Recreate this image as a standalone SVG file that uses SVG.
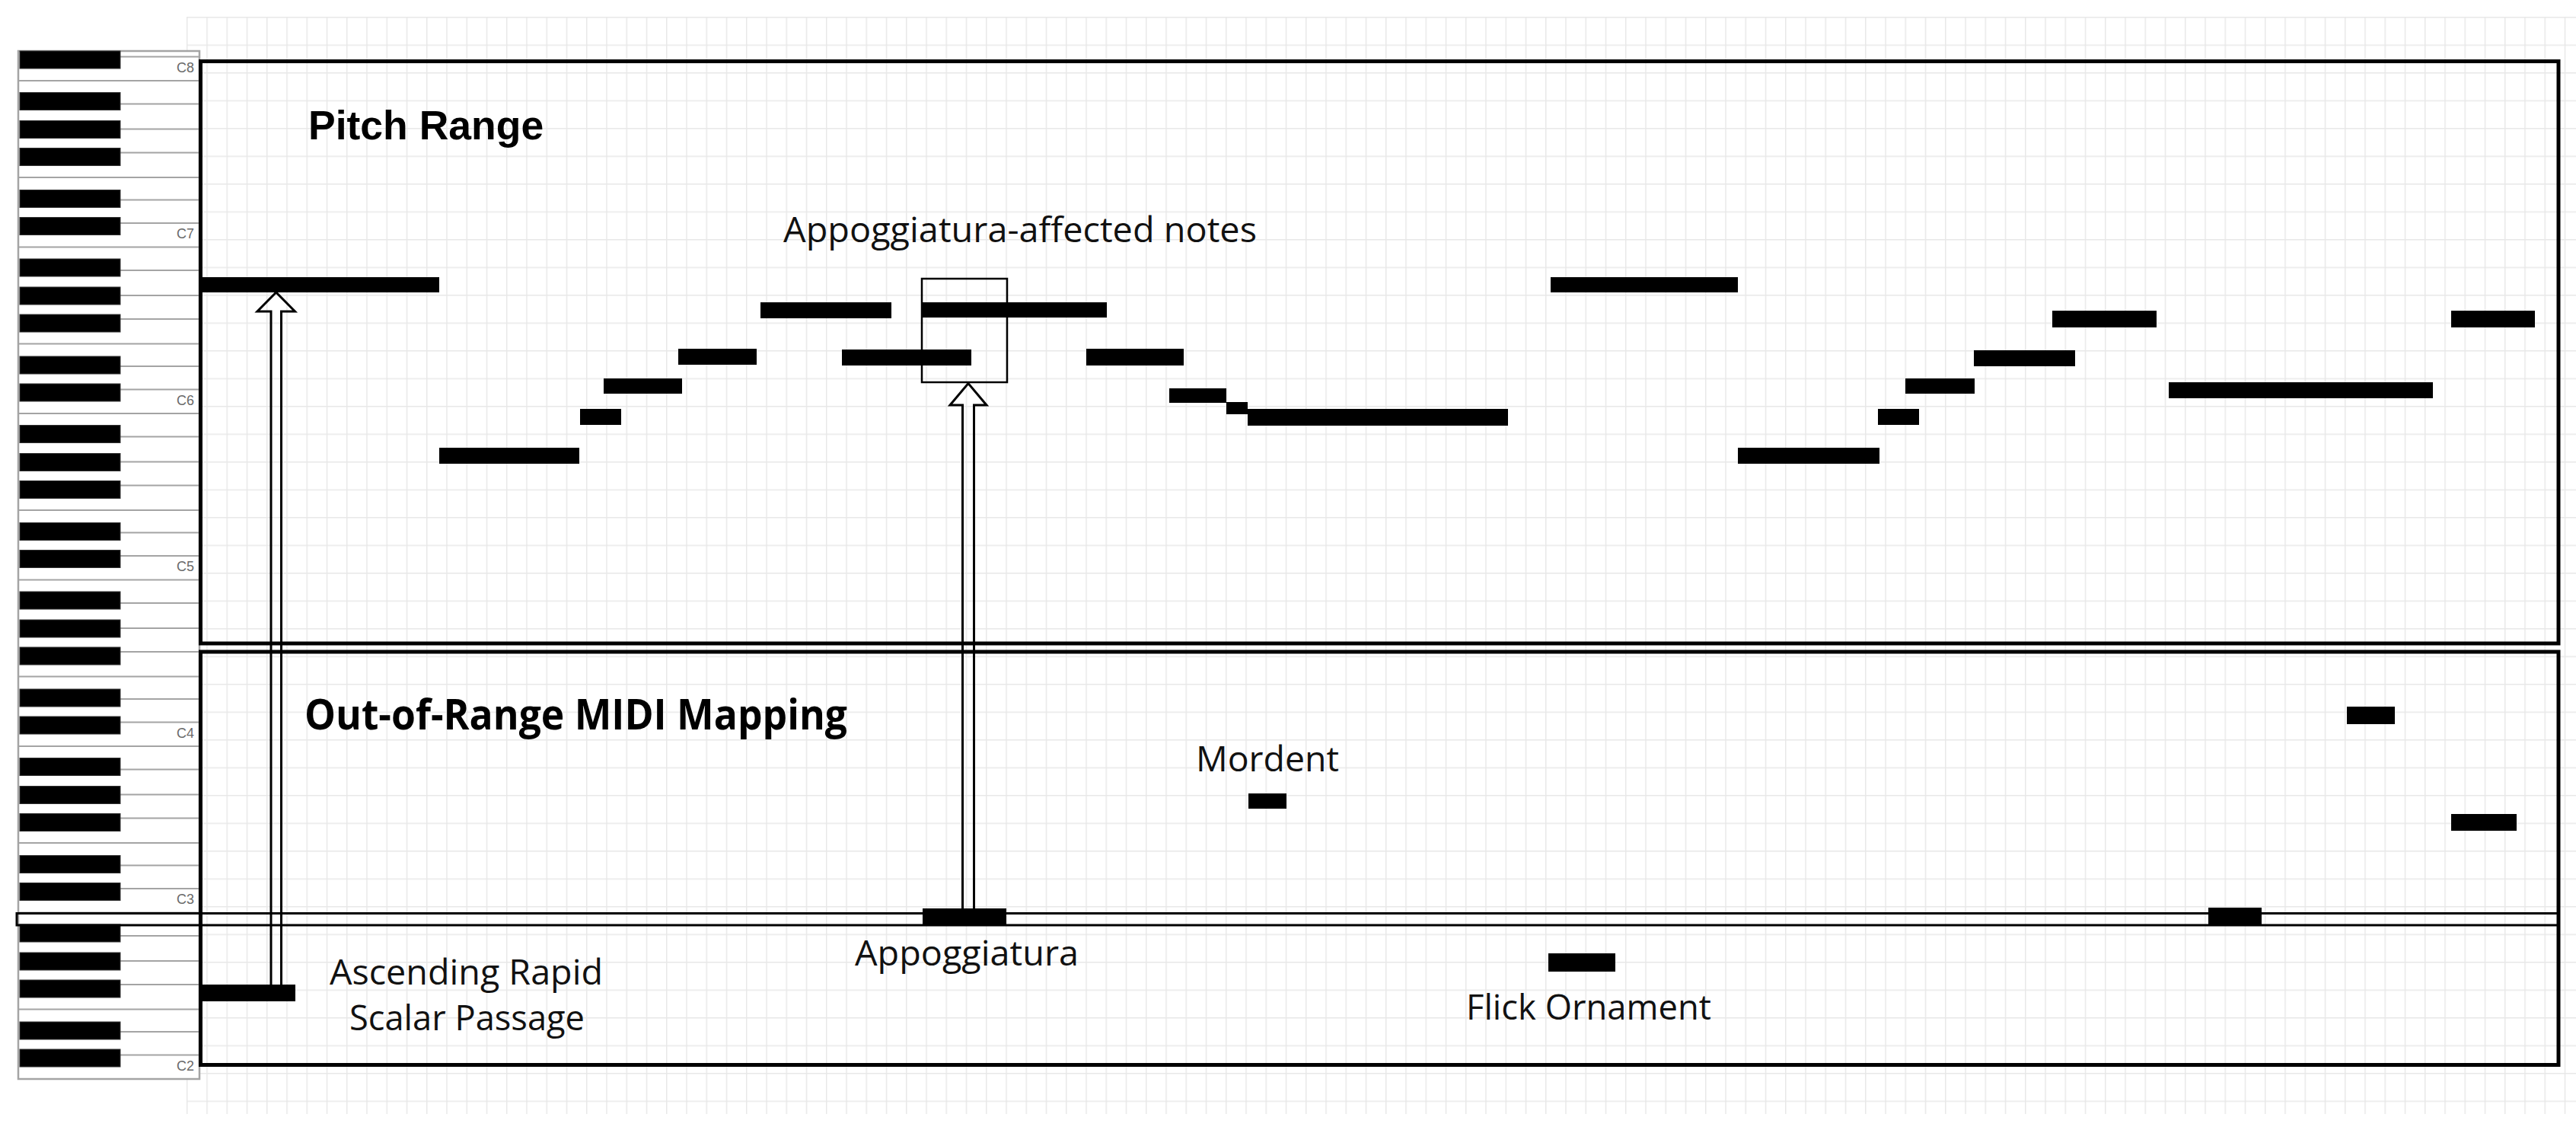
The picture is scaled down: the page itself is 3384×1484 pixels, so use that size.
<svg xmlns="http://www.w3.org/2000/svg" xmlns:xlink="http://www.w3.org/1999/xlink" width="3384" height="1484" viewBox="0 0 3384 1484">
<style>
.note{fill:#000}
.bk{fill:#000;stroke:#333;stroke-width:1}
.wl{stroke:#a4a4a4;stroke-width:2;fill:none}
.klab{font-family:"Liberation Sans",Arial,sans-serif;font-size:18px;fill:#6a6a6a;text-anchor:end}
.panel{fill:none;stroke:#000;stroke-width:5}
.band{fill:none;stroke:#000;stroke-width:3}
.hl{fill:none;stroke:#000;stroke-width:2.5}
.arrow{fill:none;stroke:#000;stroke-width:3;stroke-linejoin:miter}
.title{font-family:"Liberation Sans",Arial,sans-serif;font-weight:bold;font-size:53.5px;fill:#000}
.title2{font-family:"Open Sans","Noto Sans",sans-serif;font-weight:bold;font-size:55px;fill:#000}
.lab{font-family:"Open Sans","Noto Sans",sans-serif;font-size:46px;fill:#111}
</style>
<defs>
<pattern id="grid" x="245" y="22" width="26.25" height="36.5" patternUnits="userSpaceOnUse">
<path d="M0.75 0 V36.5 M0 0.75 H26.25" stroke="#e8e8e8" stroke-width="1.5" fill="none"/>
</pattern>
<g id="octave">
<line class="wl" x1="24" y1="0" x2="262" y2="0"/>
<line class="wl" x1="24" y1="-91.5" x2="262" y2="-91.5"/>
<line class="wl" x1="158" y1="-31.5" x2="262" y2="-31.5"/>
<line class="wl" x1="158" y1="-62" x2="262" y2="-62"/>
<line class="wl" x1="158" y1="-124" x2="262" y2="-124"/>
<line class="wl" x1="158" y1="-155" x2="262" y2="-155"/>
<line class="wl" x1="158" y1="-188" x2="262" y2="-188"/>
<rect class="bk" x="26" y="-39" width="132" height="23"/>
<rect class="bk" x="26" y="-75" width="132" height="23"/>
<rect class="bk" x="26" y="-130" width="132" height="23"/>
<rect class="bk" x="26" y="-166" width="132" height="23"/>
<rect class="bk" x="26" y="-203" width="132" height="23"/>
</g>
</defs>
<rect width="3384" height="1484" fill="#fff"/>
<rect id="grid-bg" x="245" y="22" width="3139" height="1441" fill="url(#grid)"/>

<g id="keyboard">
<rect x="24" y="67" width="238" height="1350" fill="#fff" stroke="#a4a4a4" stroke-width="2.5"/>
<use xlink:href="#octave" transform="translate(0,1417)"/>
<use xlink:href="#octave" transform="translate(0,1198.5)"/>
<use xlink:href="#octave" transform="translate(0,980)"/>
<use xlink:href="#octave" transform="translate(0,761.5)"/>
<use xlink:href="#octave" transform="translate(0,543)"/>
<use xlink:href="#octave" transform="translate(0,324.5)"/>
<line class="wl" x1="24" y1="106" x2="262" y2="106"/>
<line class="wl" x1="158" y1="74.5" x2="262" y2="74.5"/>
<rect class="bk" x="26" y="67" width="132" height="23"/>
<text class="klab" x="255" y="95">C8</text>
<text class="klab" x="255" y="313">C7</text>
<text class="klab" x="255" y="532">C6</text>
<text class="klab" x="255" y="750">C5</text>
<text class="klab" x="255" y="969">C4</text>
<text class="klab" x="255" y="1187">C3</text>
<text class="klab" x="255" y="1406">C2</text>
</g>

<g id="band-c3">
<rect class="band" x="22" y="1199.5" width="3339" height="15.5"/>
</g>

<g id="panel-pitch-range">
<rect class="panel" x="263.5" y="80.5" width="3097.5" height="764.5"/>
<text class="title" x="405" y="183">Pitch Range</text>
</g>
<g id="panel-out-of-range">
<rect class="panel" x="263.5" y="856" width="3097.5" height="542.5"/>
<text class="title2" x="400" y="958" textLength="713" lengthAdjust="spacingAndGlyphs">Out-of-Range MIDI Mapping</text>
</g>

<g id="notes">
<rect id="n1" class="note" x="263" y="364" width="314" height="20"/>
<rect id="n2" class="note" x="577" y="588" width="184" height="21"/>
<rect id="n3" class="note" x="762" y="537" width="54" height="21"/>
<rect id="n4" class="note" x="793" y="497" width="103" height="20"/>
<rect id="n5" class="note" x="891" y="458" width="103" height="21"/>
<rect id="n6" class="note" x="999" y="397" width="172" height="21"/>
<rect id="n7" class="note" x="1106" y="459" width="170" height="21"/>
<rect id="n8" class="note" x="1211" y="397" width="243" height="20"/>
<rect id="n9" class="note" x="1427" y="458" width="128" height="22"/>
<rect id="n10" class="note" x="1536" y="510" width="75" height="19"/>
<rect id="n11" class="note" x="1611" y="528" width="28" height="16"/>
<rect id="n12" class="note" x="1639" y="537" width="342" height="22"/>
<rect id="n13" class="note" x="2037" y="364" width="246" height="20"/>
<rect id="n14" class="note" x="2283" y="588" width="186" height="21"/>
<rect id="n15" class="note" x="2467" y="537" width="54" height="21"/>
<rect id="n16" class="note" x="2503" y="497" width="91" height="20"/>
<rect id="n17" class="note" x="2593" y="460" width="133" height="21"/>
<rect id="n18" class="note" x="2696" y="408" width="137" height="22"/>
<rect id="n19" class="note" x="2849" y="502" width="347" height="21"/>
<rect id="n20" class="note" x="3220" y="408" width="110" height="22"/>
<rect id="n-mordent" class="note" x="1640" y="1042" width="50" height="20"/>
<rect id="n22" class="note" x="3083" y="928" width="63" height="23"/>
<rect id="n23" class="note" x="3220" y="1069" width="86" height="22"/>
<rect id="n24" class="note" x="2901" y="1192" width="70" height="23"/>
<rect id="n-appoggiatura" class="note" x="1212" y="1193" width="110" height="21"/>
<rect id="n-ascending" class="note" x="263" y="1293" width="125" height="22"/>
<rect id="n-flick" class="note" x="2034" y="1252" width="88" height="24"/>
</g>

<g id="affected-box">
<rect class="hl" x="1211" y="366" width="112" height="136"/>
</g>

<g id="labels">
<text class="lab" x="1029" y="318" textLength="622" lengthAdjust="spacingAndGlyphs">Appoggiatura-affected notes</text>
<text class="lab" x="1571" y="1013" textLength="188" lengthAdjust="spacingAndGlyphs">Mordent</text>
<text class="lab" x="1123" y="1268" textLength="294" lengthAdjust="spacingAndGlyphs">Appoggiatura</text>
<text class="lab" x="433" y="1293" textLength="359" lengthAdjust="spacingAndGlyphs">Ascending Rapid</text>
<text class="lab" x="459" y="1353" textLength="309" lengthAdjust="spacingAndGlyphs">Scalar Passage</text>
<text class="lab" x="1926" y="1339" textLength="322" lengthAdjust="spacingAndGlyphs">Flick Ornament</text>
</g>

<g id="connectors">
<path class="arrow" d="M356 1293 V409 H338 L362.75 384 L387.5 409 H369.5 V1293"/>
<path class="arrow" d="M1264.5 1193 V532 H1248 L1272 503.5 L1296 532 H1279.5 V1193"/>
</g>
</svg>
